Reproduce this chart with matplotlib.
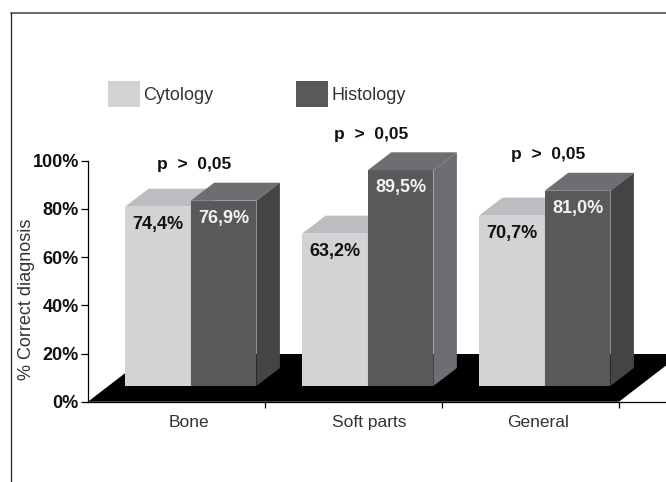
import numpy as np
import matplotlib
matplotlib.use('Agg')
import matplotlib.pyplot as plt
from matplotlib.lines import Line2D
from matplotlib.patches import Patch, Polygon

plt.rcParams['font.family'] = ['Liberation Sans', 'DejaVu Sans']

categories = ['Bone', 'Soft parts', 'General']
cytology = [74.4, 63.2, 70.7]
histology = [76.9, 89.5, 81.0]
cytology_labels = ['74,4%', '63,2%', '70,7%']
histology_labels = ['76,9%', '89,5%', '81,0%']
p_labels = ['p > 0,05', 'p > 0,05', 'p > 0,05']
y_ticks = [0, 20, 40, 60, 80, 100]

# pixel scale of the picture
W, H = 666, 482
px_x = 177.0   # pixels per category
px_y = 2.41    # pixels per percent
x0, y0 = 88, 401.7

fig = plt.figure(figsize=(W / 100, H / 100), dpi=100)
ax = fig.add_axes([0, 0, 1, 1])
ax.set_xlim(-x0 / px_x, (W - x0) / px_x)
ax.set_ylim(-(H - y0) / px_y, y0 / px_y)
ax.patch.set_alpha(0)

# depth of the fake 3d
dx = 23.5 / px_x
dy = 18 / px_y
base = 15.7 / px_y
bar_w = 65.7 / px_x
bar_start = 37 / px_x

c_front, c_top = '#d1d3d4', '#bcbdc0'
h_front, h_top = '#58595b', '#6d6e71'
h_sides = ['#444446', '#6d6e71', '#444446']


def box(x, val, front, top, side):
    y = base + val * 1.0
    ax.add_patch(Polygon([(x, base), (x + bar_w, base), (x + bar_w, y), (x, y)], fc=front, ec='none', zorder=3))
    ax.add_patch(Polygon([(x, y), (x + bar_w, y), (x + bar_w + dx, y + dy), (x + dx, y + dy)], fc=top, ec='none', zorder=3))
    ax.add_patch(Polygon([(x + bar_w, base), (x + bar_w + dx, base + dy), (x + bar_w + dx, y + dy), (x + bar_w, y)],
                         fc=side, ec='none', zorder=3))


# black floor
floor_d = 47.7 / px_y
floor_dx = 62 / px_x
ax.add_patch(Polygon([(0, 0), (3, 0), (3 + floor_dx, floor_d), (floor_dx, floor_d)], fc='black', ec='none', zorder=1))

for i in range(len(categories)):
    x = i + bar_start
    box(x, cytology[i], c_front, c_top, c_top)
    box(x + bar_w, histology[i], h_front, h_top, h_sides[i])
    y_c = base + cytology[i] - 17.5 / px_y
    y_h = base + histology[i] - 17.5 / px_y
    ax.text(x + bar_w / 2, y_c, cytology_labels[i], ha='center', va='center', fontsize=13, fontweight='bold',
            color='#111111', zorder=4)
    ax.text(x + bar_w * 1.5, y_h, histology_labels[i], ha='center', va='center', fontsize=13, fontweight='bold',
            color='#f2f2f2', zorder=4)
    top = max(cytology[i], histology[i]) + base + dy
    ax.text(x + 69 / px_x, top + 18 / px_y, p_labels[i].replace(' ', '  '), ha='center', va='center', fontsize=12.5,
            fontweight='bold', color='#111111', zorder=4)

# axes
for s in ['top', 'right']:
    ax.spines[s].set_visible(False)
ax.spines['left'].set_position(('data', 0))
ax.spines['bottom'].set_position(('data', 0))
ax.spines['left'].set_bounds(0, 100)
ax.spines['bottom'].set_bounds(0, (W - x0) / px_x)
ax.spines['left'].set_linewidth(0.9)
ax.spines['bottom'].set_linewidth(0.9)

ax.set_yticks(y_ticks)
ax.set_yticklabels([f'{t}%' for t in y_ticks], fontsize=13, fontweight='bold', color='#111111')
ax.tick_params(axis='y', length=5, width=0.9, pad=1.5)

ax.set_xticks([1, 2, 3])
ax.set_xticklabels([])
ax.tick_params(axis='x', which='major', length=4.5, width=0.9)
ax.set_xticks([0.57, 1.59, 2.54], minor=True)
ax.set_xticklabels(categories, minor=True, fontsize=12.5, color='#333333')
ax.tick_params(axis='x', which='minor', length=0, pad=9.5)

ax.text(-62 / px_x, 100 * (y0 - 299) / (y0 - 160.7), '% Correct diagnosis', rotation=90, ha='center', va='center',
        fontsize=13, color='#333333')

# legend
handles = [Patch(fc=c_front, ec='none', label='Cytology'), Patch(fc=h_front, ec='none', label='Histology')]
fig.legend(handles=handles, loc='center left', bbox_to_anchor=(108 / W, 1 - 94 / H), ncols=2, frameon=False,
           fontsize=13, borderpad=0, borderaxespad=0, handlelength=32 / 18.06, handleheight=32 / 18.06,
           handletextpad=3 / 18.06, columnspacing=4.6, labelcolor='#333333')

# outer frame, only top and left
fig.add_artist(Line2D([11 / W, 1], [1 - 13 / H, 1 - 13 / H], color='#444444', lw=1.1))
fig.add_artist(Line2D([11 / W, 11 / W], [0, 1 - 13 / H], color='#222222', lw=0.9))

fig.savefig('out.png', dpi=100)
